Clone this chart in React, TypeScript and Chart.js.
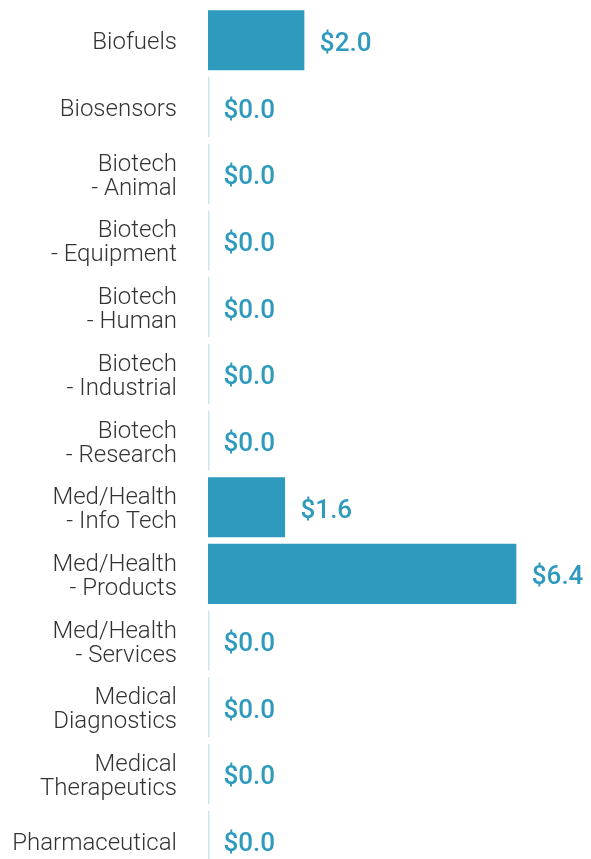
import React, { useEffect, useRef } from "react";
import { Chart, registerables } from "chart.js";

Chart.register(...registerables);

const categories: (string | string[])[] = [
  "Biofuels",
  "Biosensors",
  ["Biotech", "- Animal"],
  ["Biotech", "- Equipment"],
  ["Biotech", "- Human"],
  ["Biotech", "- Industrial"],
  ["Biotech", "- Research"],
  ["Med/Health", "- Info Tech"],
  ["Med/Health", "- Products"],
  ["Med/Health", "- Services"],
  ["Medical", "Diagnostics"],
  ["Medical", "Therapeutics"],
  "Pharmaceutical",
];

const values: number[] = [2.0, 0, 0, 0, 0, 0, 0, 1.6, 6.4, 0, 0, 0, 0];

const BAR_COLOR = "#2e9abd";
const LINE_COLOR = "#c9e5ef";

const baseLinePlugin = {
  id: "baseLines",
  beforeDatasetsDraw(chart: any) {
    const meta = chart.getDatasetMeta(0);
    const ctx = chart.ctx;
    ctx.save();
    ctx.strokeStyle = LINE_COLOR;
    ctx.lineWidth = 1.5;
    meta.data.forEach((bar: any) => {
      const h = bar.height;
      const x = Math.round(bar.base) + 0.75;
      ctx.beginPath();
      ctx.moveTo(x, bar.y - h / 2);
      ctx.lineTo(x, bar.y + h / 2);
      ctx.stroke();
    });
    ctx.restore();
  },
};

const valueLabelPlugin = {
  id: "valueLabels",
  afterDatasetsDraw(chart: any) {
    const meta = chart.getDatasetMeta(0);
    const ctx = chart.ctx;
    ctx.save();
    ctx.fillStyle = BAR_COLOR;
    ctx.font = "500 26px Roboto";
    ctx.textAlign = "left";
    ctx.textBaseline = "middle";
    meta.data.forEach((bar: any, i: number) => {
      const v = values[i];
      ctx.fillText("$" + v.toFixed(1), bar.x + 15.5, bar.y + 4);
    });
    ctx.restore();
  },
};

export default function App() {
  const ref = useRef<HTMLCanvasElement | null>(null);

  useEffect(() => {
    document.body.style.margin = "0";
    if (!ref.current) return;
    const chart = new Chart(ref.current, {
      type: "bar",
      data: {
        labels: categories,
        datasets: [
          {
            data: values,
            backgroundColor: BAR_COLOR,
            borderWidth: 0,
            barPercentage: 0.9,
            categoryPercentage: 1.0,
          },
        ],
      },
      options: {
        indexAxis: "y",
        animation: false,
        responsive: false,
        maintainAspectRatio: false,
        layout: { padding: { top: 7, bottom: 6, left: 0, right: 0 } },
        plugins: {
          legend: { display: false },
          tooltip: { enabled: false },
        },
        scales: {
          x: {
            display: false,
            min: 0,
            max: 7.95,
          },
          y: {
            afterFit(scale: any) {
              scale.width = 208;
              scale.paddingTop = 0;
              scale.paddingBottom = 0;
            },
            grid: { display: false, drawTicks: false },
            border: { display: false },
            ticks: {
              padding: 31,
              labelOffset: 3,
              color: "#333333",
              font: { family: "Roboto", size: 24, weight: "300", lineHeight: 1.0 },
            },
          },
        },
      },
      plugins: [baseLinePlugin, valueLabelPlugin],
    });
    return () => chart.destroy();
  }, []);

  return (
    <div style={{ width: 591, height: 859, overflow: "hidden" }}>
      <canvas ref={ref} width={591} height={880} style={{ display: "block" }} />
    </div>
  );
}
